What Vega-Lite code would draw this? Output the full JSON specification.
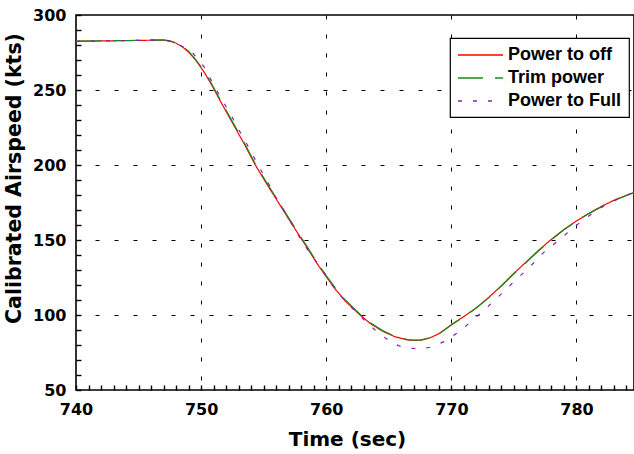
{
  "$schema": "https://vega.github.io/schema/vega-lite/v6.json",
  "width": 558,
  "height": 375,
  "autosize": {"type": "none"},
  "padding": {"left": 76, "top": 15, "right": 0, "bottom": 64},
  "background": "white",
  "config": {
    "view": {"stroke": "black", "strokeWidth": 1.6},
    "legend": {
      "orient": "none",
      "strokeColor": "black",
      "strokeWidth": 1.2,
      "fillColor": "white",
      "padding": 7,
      "labelFont": "Liberation Sans",
      "labelFontWeight": "bold",
      "labelFontSize": 18,
      "labelColor": "black",
      "symbolType": "M-1,0H4",
      "symbolSize": 324,
      "symbolStrokeWidth": 1.3,
      "symbolFillColor": "transparent",
      "labelOffset": 31,
      "rowPadding": 4,
      "labelLimit": 300
    }
  },
  "data": {"values": [
    {"s": "Power to off", "t": 740, "v": 282.5},
    {"s": "Power to off", "t": 742, "v": 282.7},
    {"s": "Power to off", "t": 744, "v": 282.9},
    {"s": "Power to off", "t": 746, "v": 283.2},
    {"s": "Power to off", "t": 747, "v": 283.3},
    {"s": "Power to off", "t": 747.5, "v": 282.6},
    {"s": "Power to off", "t": 748, "v": 281.2},
    {"s": "Power to off", "t": 748.5, "v": 278.8},
    {"s": "Power to off", "t": 749, "v": 275.3},
    {"s": "Power to off", "t": 749.6, "v": 269.5},
    {"s": "Power to off", "t": 750.2, "v": 262.5},
    {"s": "Power to off", "t": 750.85, "v": 253.3},
    {"s": "Power to off", "t": 751.5, "v": 243.2},
    {"s": "Power to off", "t": 752.6, "v": 226.7},
    {"s": "Power to off", "t": 753.5, "v": 213.2},
    {"s": "Power to off", "t": 754.3, "v": 200.5},
    {"s": "Power to off", "t": 755.2, "v": 188},
    {"s": "Power to off", "t": 756.05, "v": 176.7},
    {"s": "Power to off", "t": 757, "v": 164},
    {"s": "Power to off", "t": 757.65, "v": 155.5},
    {"s": "Power to off", "t": 758.5, "v": 144.5},
    {"s": "Power to off", "t": 759.25, "v": 134.5},
    {"s": "Power to off", "t": 760, "v": 125.5},
    {"s": "Power to off", "t": 760.7, "v": 117.5},
    {"s": "Power to off", "t": 761.5, "v": 109.5},
    {"s": "Power to off", "t": 762.7, "v": 100},
    {"s": "Power to off", "t": 763.5, "v": 94.5},
    {"s": "Power to off", "t": 764.5, "v": 89.2},
    {"s": "Power to off", "t": 765.5, "v": 85.5},
    {"s": "Power to off", "t": 766.5, "v": 83.4},
    {"s": "Power to off", "t": 767, "v": 83},
    {"s": "Power to off", "t": 767.6, "v": 83.3},
    {"s": "Power to off", "t": 768.3, "v": 84.8},
    {"s": "Power to off", "t": 769, "v": 87.5},
    {"s": "Power to off", "t": 770, "v": 93.5},
    {"s": "Power to off", "t": 771, "v": 99},
    {"s": "Power to off", "t": 772, "v": 104.8},
    {"s": "Power to off", "t": 773, "v": 111.8},
    {"s": "Power to off", "t": 774, "v": 119.5},
    {"s": "Power to off", "t": 775, "v": 127.8},
    {"s": "Power to off", "t": 776, "v": 135.5},
    {"s": "Power to off", "t": 777, "v": 143.3},
    {"s": "Power to off", "t": 778, "v": 150.5},
    {"s": "Power to off", "t": 779, "v": 157},
    {"s": "Power to off", "t": 780, "v": 162.7},
    {"s": "Power to off", "t": 781, "v": 167.8},
    {"s": "Power to off", "t": 782, "v": 172.4},
    {"s": "Power to off", "t": 783, "v": 176.5},
    {"s": "Power to off", "t": 784, "v": 179.8},
    {"s": "Power to off", "t": 784.6, "v": 181.7},
    {"s": "Trim power", "t": 740, "v": 282.6},
    {"s": "Trim power", "t": 742, "v": 282.8},
    {"s": "Trim power", "t": 744, "v": 283},
    {"s": "Trim power", "t": 746, "v": 283.2},
    {"s": "Trim power", "t": 747, "v": 283.4},
    {"s": "Trim power", "t": 747.5, "v": 282.8},
    {"s": "Trim power", "t": 748, "v": 281.5},
    {"s": "Trim power", "t": 748.5, "v": 279.2},
    {"s": "Trim power", "t": 749, "v": 275.8},
    {"s": "Trim power", "t": 749.6, "v": 270},
    {"s": "Trim power", "t": 750.2, "v": 263.2},
    {"s": "Trim power", "t": 750.85, "v": 254},
    {"s": "Trim power", "t": 751.5, "v": 244},
    {"s": "Trim power", "t": 752.6, "v": 227.5},
    {"s": "Trim power", "t": 753.5, "v": 214},
    {"s": "Trim power", "t": 754.3, "v": 201.3},
    {"s": "Trim power", "t": 755.2, "v": 188.8},
    {"s": "Trim power", "t": 756.05, "v": 177.4},
    {"s": "Trim power", "t": 757, "v": 164.8},
    {"s": "Trim power", "t": 757.65, "v": 156.2},
    {"s": "Trim power", "t": 758.5, "v": 145.2},
    {"s": "Trim power", "t": 759.25, "v": 135.2},
    {"s": "Trim power", "t": 760, "v": 126.2},
    {"s": "Trim power", "t": 760.7, "v": 118.2},
    {"s": "Trim power", "t": 761.5, "v": 110.2},
    {"s": "Trim power", "t": 762.7, "v": 100.6},
    {"s": "Trim power", "t": 763.5, "v": 95},
    {"s": "Trim power", "t": 764.5, "v": 89.6},
    {"s": "Trim power", "t": 765.5, "v": 85.8},
    {"s": "Trim power", "t": 766.5, "v": 83.6},
    {"s": "Trim power", "t": 767, "v": 83.2},
    {"s": "Trim power", "t": 767.6, "v": 83.4},
    {"s": "Trim power", "t": 768.3, "v": 84.8},
    {"s": "Trim power", "t": 769, "v": 87.4},
    {"s": "Trim power", "t": 770, "v": 93.3},
    {"s": "Trim power", "t": 771, "v": 98.8},
    {"s": "Trim power", "t": 772, "v": 104.6},
    {"s": "Trim power", "t": 773, "v": 111.6},
    {"s": "Trim power", "t": 774, "v": 119.3},
    {"s": "Trim power", "t": 775, "v": 127.5},
    {"s": "Trim power", "t": 776, "v": 135.2},
    {"s": "Trim power", "t": 777, "v": 143},
    {"s": "Trim power", "t": 778, "v": 150.2},
    {"s": "Trim power", "t": 779, "v": 156.8},
    {"s": "Trim power", "t": 780, "v": 162.5},
    {"s": "Trim power", "t": 781, "v": 167.6},
    {"s": "Trim power", "t": 782, "v": 172.2},
    {"s": "Trim power", "t": 783, "v": 176.3},
    {"s": "Trim power", "t": 784, "v": 179.7},
    {"s": "Trim power", "t": 784.6, "v": 181.6},
    {"s": "Power to Full", "t": 740, "v": 282.5},
    {"s": "Power to Full", "t": 742, "v": 282.7},
    {"s": "Power to Full", "t": 744, "v": 282.9},
    {"s": "Power to Full", "t": 746, "v": 283.2},
    {"s": "Power to Full", "t": 747, "v": 283.3},
    {"s": "Power to Full", "t": 747.6, "v": 282.4},
    {"s": "Power to Full", "t": 748.3, "v": 280},
    {"s": "Power to Full", "t": 749.25, "v": 275.5},
    {"s": "Power to Full", "t": 750.2, "v": 266},
    {"s": "Power to Full", "t": 750.9, "v": 255},
    {"s": "Power to Full", "t": 751.65, "v": 243.8},
    {"s": "Power to Full", "t": 752.4, "v": 233.2},
    {"s": "Power to Full", "t": 753.1, "v": 222.2},
    {"s": "Power to Full", "t": 753.85, "v": 211},
    {"s": "Power to Full", "t": 754.55, "v": 200},
    {"s": "Power to Full", "t": 755.3, "v": 188.9},
    {"s": "Power to Full", "t": 756, "v": 178.2},
    {"s": "Power to Full", "t": 756.8, "v": 167.1},
    {"s": "Power to Full", "t": 757.55, "v": 156.2},
    {"s": "Power to Full", "t": 758.35, "v": 145.5},
    {"s": "Power to Full", "t": 759.25, "v": 135.1},
    {"s": "Power to Full", "t": 760.05, "v": 125.5},
    {"s": "Power to Full", "t": 760.85, "v": 115.5},
    {"s": "Power to Full", "t": 761.9, "v": 106},
    {"s": "Power to Full", "t": 763, "v": 97},
    {"s": "Power to Full", "t": 764.1, "v": 88.5},
    {"s": "Power to Full", "t": 765.2, "v": 81.8},
    {"s": "Power to Full", "t": 766, "v": 78.8},
    {"s": "Power to Full", "t": 766.8, "v": 77.7},
    {"s": "Power to Full", "t": 767.6, "v": 77.6},
    {"s": "Power to Full", "t": 768.3, "v": 78.5},
    {"s": "Power to Full", "t": 769.5, "v": 82.5},
    {"s": "Power to Full", "t": 770.7, "v": 89.3},
    {"s": "Power to Full", "t": 771.9, "v": 98},
    {"s": "Power to Full", "t": 773, "v": 106.2},
    {"s": "Power to Full", "t": 774.1, "v": 114.9},
    {"s": "Power to Full", "t": 775.2, "v": 123.8},
    {"s": "Power to Full", "t": 776.3, "v": 132.2},
    {"s": "Power to Full", "t": 777.3, "v": 141.1},
    {"s": "Power to Full", "t": 778.45, "v": 148.9},
    {"s": "Power to Full", "t": 779.6, "v": 157.1},
    {"s": "Power to Full", "t": 780.7, "v": 164.4},
    {"s": "Power to Full", "t": 781.95, "v": 171.5},
    {"s": "Power to Full", "t": 783.4, "v": 177.8},
    {"s": "Power to Full", "t": 784.6, "v": 181.8}
  ]},
  "mark": {"type": "line", "strokeWidth": 1.2, "clip": true},
  "encoding": {
    "x": {
      "field": "t", "type": "quantitative",
      "scale": {"domain": [740, 784.6], "nice": false, "zero": false},
      "axis": {
        "title": "Time (sec)",
        "titleFont": "DejaVu Sans", "titleFontWeight": "bold", "titleFontSize": 20, "titleColor": "black",
        "titleX": 271, "titlePadding": 12,
        "offset": -5,
        "values": [740,741,742,743,744,745,746,747,748,749,750,751,752,753,754,755,756,757,758,759,760,761,762,763,764,765,766,767,768,769,770,771,772,773,774,775,776,777,778,779,780,781,782,783,784],
        "labelExpr": "datum.value % 10 === 0 ? datum.value : ''",
        "labelFont": "DejaVu Sans", "labelFontWeight": "bold", "labelFontSize": 16, "labelColor": "black",
        "labelPadding": 11, "labelFlush": false, "labelOverlap": false,
        "domain": false,
        "ticks": true, "tickSize": 5, "tickColor": "black", "tickWidth": 1.4,
        "grid": true, "gridColor": "black", "gridWidth": 1, "gridDash": [4, 15],
        "gridOpacity": {"condition": {"test": "datum.value % 10 === 0 && datum.value > 740", "value": 1}, "value": 0}
      }
    },
    "y": {
      "field": "v", "type": "quantitative",
      "scale": {"domain": [50, 300], "nice": false, "zero": false},
      "axis": {
        "title": "Calibrated Airspeed (kts)",
        "titleFont": "DejaVu Sans", "titleFontWeight": "bold", "titleFontSize": 20.5, "titleColor": "black",
        "titlePadding": 8, "titleY": 163,
        "offset": -5,
        "values": [50,60,70,80,90,100,110,120,130,140,150,160,170,180,190,200,210,220,230,240,250,260,270,280,290,300],
        "labelExpr": "datum.value % 50 === 0 ? datum.value : ''",
        "labelFont": "DejaVu Sans", "labelFontWeight": "bold", "labelFontSize": 16, "labelColor": "black",
        "labelPadding": 10, "labelFlush": false, "labelOverlap": false,
        "domain": false,
        "ticks": true, "tickSize": 5, "tickColor": "black", "tickWidth": 1.4,
        "grid": true, "gridColor": "black", "gridWidth": 1, "gridDash": [4, 15],
        "gridOpacity": {"condition": {"test": "datum.value % 50 === 0 && datum.value > 50 && datum.value < 300", "value": 1}, "value": 0}
      }
    },
    "color": {
      "field": "s", "type": "nominal", "title": null,
      "scale": {"domain": ["Power to off", "Trim power", "Power to Full"], "range": ["#ff0000", "#1a8a1a", "#8c1ab4"]},
      "legend": {"legendX": 374, "legendY": 23}
    },
    "strokeDash": {
      "field": "s", "type": "nominal", "title": null,
      "scale": {"domain": ["Power to off", "Trim power", "Power to Full"], "range": [[1, 0], [25, 12], [4, 11]]},
      "legend": {"legendX": 374, "legendY": 23}
    }
  }
}
